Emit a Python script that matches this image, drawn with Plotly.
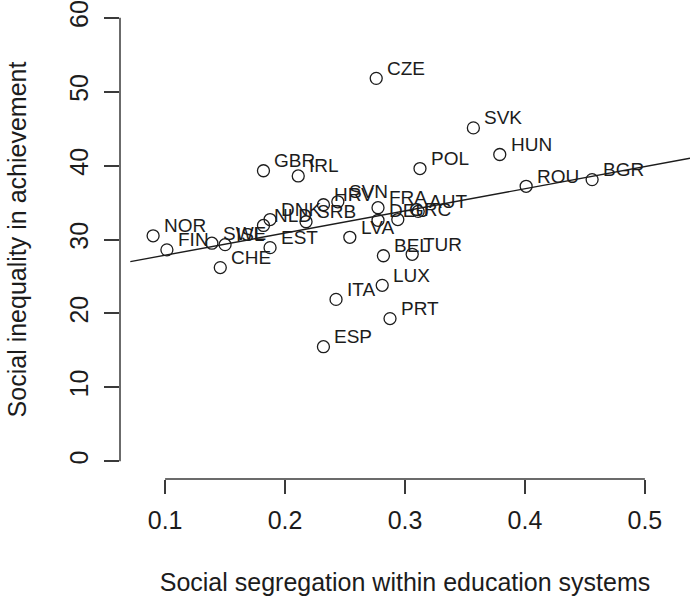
import numpy as np
import plotly.graph_objects as go

countries = ["CZE","SVK","HUN","POL","GBR","IRL","ROU","BGR","SVN","HRV",
             "FRA","AUT","DEU","GRC","SRB","DNK","NLD","LVA","EST","SWE",
             "ISL","NOR","FIN","CHE","BEL","TUR","LUX","ITA","PRT","ESP"]
segregation = [0.276,0.357,0.379,0.3125,0.182,0.211,0.401,0.456,0.244,0.232,
               0.2775,0.311,0.2775,0.294,0.2175,0.1875,0.182,0.254,0.1875,0.139,
               0.150,0.090,0.1015,0.146,0.282,0.306,0.281,0.2425,0.2875,0.232]
inequality = [51.8,45.1,41.5,39.6,39.3,38.6,37.2,38.1,35.1,34.7,
              34.3,33.8,32.6,32.7,32.4,32.7,31.9,30.3,28.9,29.5,
              29.3,30.5,28.6,26.2,27.8,28.0,23.8,21.9,19.3,15.5]

x_ticks = [0.1, 0.2, 0.3, 0.4, 0.5]
y_ticks = [0, 10, 20, 30, 40, 50, 60]

x_range = [0.0624, 0.5376]
y_range = [-2.4, 62.4]

slope, intercept = np.polyfit(segregation, inequality, 1)
line_x = np.array([0.071, x_range[1]])
line_y = intercept + slope * line_x

FONT = "Liberation Sans, Arial, sans-serif"
TXT = "#1c1c1c"
AX = "#3a3a3a"

fig = go.Figure()
fig.add_trace(go.Scatter(x=line_x, y=line_y, mode="lines",
                         line=dict(color="#1c1c1c", width=1.4),
                         hoverinfo="skip", showlegend=False))
fig.add_trace(go.Scatter(x=segregation, y=inequality, mode="markers",
                         marker=dict(symbol="circle-open", size=12,
                                     color="#1c1c1c", line=dict(width=1.3)),
                         text=countries, showlegend=False))

annotations = []
for c, xv, yv in zip(countries, segregation, inequality):
    annotations.append(dict(x=xv, y=yv, xref="x", yref="y", text=c,
                            showarrow=False, xanchor="left", yanchor="middle",
                            xshift=9, yshift=10,
                            font=dict(family=FONT, size=19, color=TXT)))

shapes = [
    dict(type="line", xref="x", yref="paper", x0=x_ticks[0], x1=x_ticks[-1],
         y0=0, y1=0, line=dict(color=AX, width=1.5)),
    dict(type="line", xref="paper", yref="y", x0=0, x1=0,
         y0=y_ticks[0], y1=y_ticks[-1], line=dict(color=AX, width=1.5)),
]

fig.update_layout(
    width=690, height=598,
    margin=dict(l=120, r=0, t=0, b=119, pad=0),
    plot_bgcolor="white", paper_bgcolor="white",
    font=dict(family=FONT, color=TXT),
    annotations=annotations, shapes=shapes,
    xaxis=dict(range=x_range, tickvals=x_ticks, ticktext=[str(v) for v in x_ticks],
               showgrid=False, zeroline=False, showline=False,
               ticks="outside", ticklen=14, tickwidth=1.5, tickcolor=AX,
               ticklabelstandoff=5,
               tickfont=dict(family=FONT, size=25, color=TXT),
               title=dict(text="Social segregation within education systems",
                          font=dict(family=FONT, size=25, color=TXT), standoff=40)),
    yaxis=dict(range=y_range, tickvals=y_ticks, ticktext=[str(v) for v in y_ticks],
               showgrid=False, zeroline=False, showline=False,
               ticks="outside", ticklen=15, tickwidth=1.5, tickcolor=AX,
               tickangle=-90, ticklabelstandoff=6,
               tickfont=dict(family=FONT, size=25, color=TXT),
               title=dict(text="Social inequality in achievement",
                          font=dict(family=FONT, size=25, color=TXT), standoff=31)),
)

fig.write_html("out.html")
